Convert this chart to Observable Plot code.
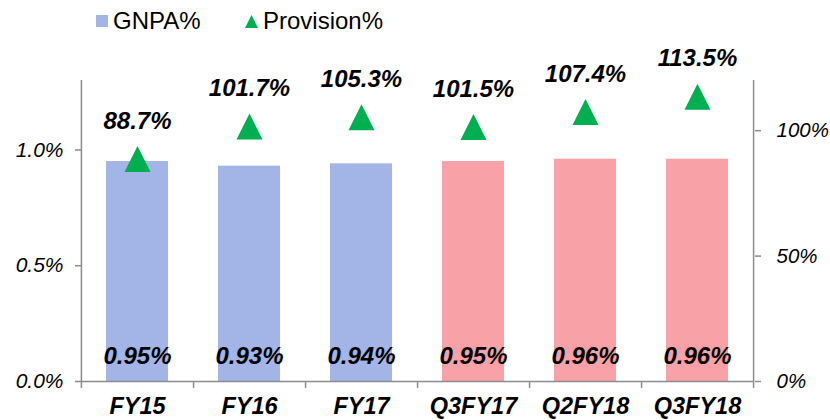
<!DOCTYPE html>
<html>
<head>
<meta charset="utf-8">
<script src="https://cdn.jsdelivr.net/npm/d3@7"></script>
<script src="https://cdn.jsdelivr.net/npm/@observablehq/plot@0.6"></script>
<style>
  html, body { margin: 0; padding: 0; background: white; }
  body { width: 830px; height: 420px; overflow: hidden; font-family: "Liberation Sans", Arial, sans-serif; }
  #legend { position: relative; height: 44px; width: 830px; }
  #legend .item { position: absolute; top: 0; height: 44px; display: flex; align-items: center; font-size: 24px; color: #000; }
  #legend .sw { position: absolute; }
</style>
</head>
<body>
<div id="legend">
  <div class="sw" style="left:96px; top:15px; width:12px; height:12px; background:#A3B4E6;"></div>
  <div class="item" style="left:113px; top:-1px;">GNPA%</div>
  <svg class="sw" style="left:245px; top:15px;" width="13" height="13"><path d="M6.5,0L13,13L0,13Z" fill="#00B050"/></svg>
  <div class="item" style="left:263px; top:-1px;">Provision%</div>
</div>
<div id="chart"></div>
<script>
const categories = ["FY15", "FY16", "FY17", "Q3FY17", "Q2FY18", "Q3FY18"];
const gnpa = [0.95, 0.93, 0.94, 0.95, 0.96, 0.96];
const provision = [88.7, 101.7, 105.3, 101.5, 107.4, 113.5];
const barColors = ["#A3B4E6", "#A3B4E6", "#A3B4E6", "#F8A1A6", "#F8A1A6", "#F8A1A6"];
const leftTicks = [0, 0.5, 1.0];
const rightTicks = [0, 50, 100];
const leftMax = 1.3;
const rightMax = 120;

const k = leftMax / rightMax;
const data = categories.map((c, i) => ({cat: c, gnpa: gnpa[i], prov: provision[i], color: barColors[i]}));

const W = 830, H = 376, mL = 81, mR = 76, mT = 36, mB = 39;
const step = (W - mL - mR) / categories.length;
const grey = "#8C8C8C";
const font = "'Liberation Sans', Arial, sans-serif";

const tri = {
  draw(context, size) {
    const r = Math.sqrt(size / Math.PI);
    context.moveTo(0, -r);
    context.lineTo(r, r);
    context.lineTo(-r, r);
    context.closePath();
  }
};

const chart = Plot.plot({
  width: W, height: H,
  marginLeft: mL, marginRight: mR, marginTop: mT, marginBottom: mB,
  style: {fontFamily: font, background: "white", color: "black", overflow: "visible"},
  x: {domain: categories, paddingInner: 0.446, paddingOuter: 0.223, axis: null},
  y: {domain: [0, leftMax], axis: null},
  color: {type: "identity"},
  marks: [
    Plot.barY(data, {x: "cat", y: "gnpa", fill: "color"}),
    Plot.ruleY([0], {stroke: grey, strokeWidth: 1.5}),
    Plot.ruleX([categories[0]], {dx: -step / 2, y1: -0.03, y2: leftMax, stroke: grey, strokeWidth: 1.5}),
    Plot.ruleX([categories[categories.length - 1]], {dx: step / 2, y1: -0.03, y2: leftMax, stroke: grey, strokeWidth: 1.5}),
    Plot.ruleX(categories.slice(0, -1), {dx: step / 2, y1: -0.03, y2: 0, stroke: grey, strokeWidth: 1.5}),
    Plot.axisY(leftTicks, {anchor: "left", label: null, tickSize: 6, tickPadding: 12,
      tickFormat: d => d.toFixed(1) + "%", fontSize: 21, fontStyle: "italic",
      stroke: grey, strokeWidth: 1.5, fill: "black"}),
    Plot.axisY(rightTicks.map(v => v * k), {anchor: "right", label: null, tickSize: 6, tickPadding: 16,
      tickFormat: d => Math.round(d / k) + "%", fontSize: 20.5, fontStyle: "italic",
      stroke: grey, strokeWidth: 1.5, fill: "black"}),
    Plot.axisX({anchor: "bottom", label: null, tickSize: 0, tickPadding: 16,
      fontSize: 23.5, fontWeight: "bold", fontStyle: "italic", fill: "black"}),
    Plot.dot(data, {x: "cat", y: d => d.prov * k, symbol: tri, r: 13, fill: "#00B050", stroke: "none"}),
    Plot.text(data, {x: "cat", y: d => d.prov * k, dy: -38, text: d => d.prov.toFixed(1) + "%",
      fontSize: 24, fontWeight: "bold", fontStyle: "italic", fill: "black"}),
    Plot.text(data, {x: "cat", y: 0, dy: -25, text: d => d.gnpa.toFixed(2) + "%",
      fontSize: 24, fontWeight: "bold", fontStyle: "italic", fill: "black"})
  ]
});
document.getElementById("chart").appendChild(chart);
</script>
</body>
</html>
